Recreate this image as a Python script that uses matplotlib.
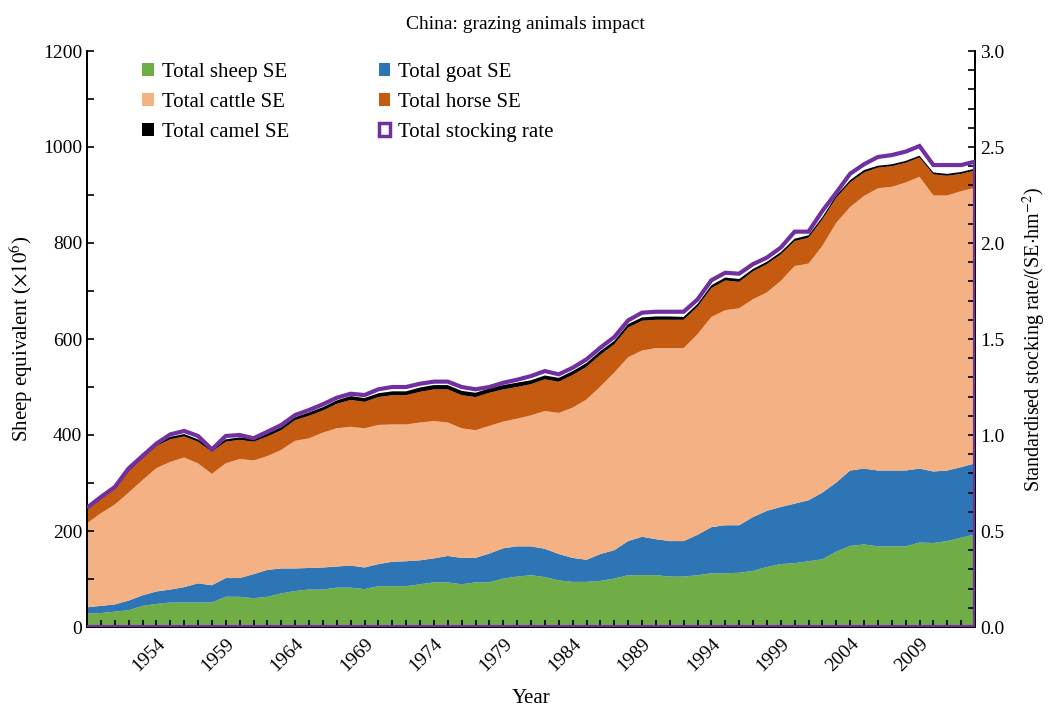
import numpy as np
import matplotlib
matplotlib.use("Agg")
import matplotlib.pyplot as plt
from matplotlib.patches import Patch, Polygon
from matplotlib.ticker import MultipleLocator, FormatStrFormatter

plt.rcParams["font.family"] = ["Liberation Serif", "DejaVu Serif"]
plt.rcParams["mathtext.fontset"] = "stix"

# Years covered by the livestock inventory
years = np.arange(1949, 2014)

# Sheep-equivalent numbers (million SE) per animal type
sheep = [28, 29, 32, 35, 44, 48, 51, 51, 51, 51, 63, 63, 60, 63, 70, 75, 78, 78, 82, 82,
         79, 85, 85, 85, 89, 93, 93, 89, 93, 93, 101, 105, 108, 104, 97, 94, 94, 96, 101, 108,
         108, 108, 105, 105, 108, 112, 112, 113, 117, 125, 131, 133, 137, 141, 157, 169, 172, 168, 168, 168,
         176, 175, 179, 186, 193]
goat = [13, 15, 15, 20, 22, 26, 27, 32, 40, 36, 39, 39, 50, 56, 52, 47, 45, 46, 44, 46,
        45, 46, 51, 52, 50, 50, 55, 55, 51, 60, 63, 63, 60, 59, 55, 50, 46, 56, 59, 71,
        80, 75, 74, 74, 84, 96, 100, 99, 112, 117, 119, 124, 127, 139, 144, 157, 158, 158, 158, 158,
        154, 149, 147, 147, 148]
cattle = [175, 193, 208, 225, 240, 257, 266, 270, 250, 232, 239, 248, 237, 237, 247, 266, 270, 281, 288, 289,
          290, 290, 286, 285, 287, 286, 278, 270, 266, 266, 264, 266, 273, 287, 294, 313, 334, 349, 370, 383,
          388, 398, 402, 402, 418, 438, 448, 452, 454, 455, 471, 495, 493, 514, 541, 549, 568, 588, 591, 600,
          608, 575, 573, 575, 574]
horse = [28, 31, 33, 44, 45, 46, 47, 44, 45, 46, 45, 40, 39, 41, 41, 43, 47, 46, 51, 56,
         55, 58, 61, 61, 64, 66, 69, 69, 69, 69, 67, 66, 65, 66, 65, 68, 68, 66, 59, 62,
         62, 59, 59, 59, 57, 60, 62, 55, 58, 59, 55, 52, 54, 55, 52, 51, 49, 43, 43, 41,
         40, 44, 41, 36, 36]
camel = [3, 3, 4, 4, 4, 5, 5, 5, 5, 5, 5, 5, 6, 6, 6, 6, 7, 7, 7, 8,
         8, 8, 8, 8, 9, 9, 9, 9, 9, 9, 9, 9, 8, 8, 8, 8, 8, 8, 7, 7,
         7, 7, 7, 6, 6, 6, 6, 6, 5, 5, 5, 5, 5, 5, 5, 5, 5, 4, 4, 4,
         4, 4, 4, 4, 4]

# Standardised stocking rate (SE per hm^2)
stocking = [0.621, 0.677, 0.729, 0.826, 0.891, 0.955, 1.003, 1.021, 0.995, 0.925,
            0.995, 1.000, 0.983, 1.017, 1.052, 1.104, 1.130, 1.160, 1.194, 1.215,
            1.208, 1.238, 1.250, 1.250, 1.267, 1.278, 1.278, 1.250, 1.238, 1.250,
            1.272, 1.288, 1.307, 1.333, 1.316, 1.350, 1.394, 1.455, 1.510, 1.597,
            1.637, 1.642, 1.642, 1.642, 1.706, 1.806, 1.845, 1.840, 1.890, 1.924,
            1.976, 2.059, 2.059, 2.167, 2.262, 2.361, 2.410, 2.448, 2.458, 2.476,
            2.505, 2.406, 2.406, 2.406, 2.424]

labels = ["Total sheep SE", "Total goat SE", "Total cattle SE", "Total horse SE",
          "Total camel SE", "Total stocking rate"]
colors = ["#70AD47", "#2E75B6", "#F4B183", "#C55A11", "#000000"]
purple = "#7030A0"

fig = plt.figure(figsize=(10.51, 7.07), dpi=100)
ax = fig.add_axes([87 / 1051, 1 - 627 / 707, 888 / 1051, 576 / 707])
ax2 = ax.twinx()

ax.stackplot(years, sheep, goat, cattle, horse, camel, colors=colors, linewidth=0)

# Stocking-rate outline: top curve, right edge and baseline
pts = list(zip(years, stocking)) + [(years[-1], 0.0), (years[0], 0.0)]
ax2.add_patch(Polygon(pts, closed=False, facecolor="none", edgecolor=purple,
                      linewidth=3, joinstyle="miter", clip_on=True, zorder=3))

ax.set_xlim(1949, 2013)
ax.set_ylim(0, 1200)
ax2.set_ylim(0, 3.0)

ax.set_xticks(np.arange(1954, 2013, 5))
ax.xaxis.set_minor_locator(MultipleLocator(1))
ax.yaxis.set_major_locator(MultipleLocator(200))
ax.yaxis.set_minor_locator(MultipleLocator(100))
ax2.yaxis.set_major_locator(MultipleLocator(0.5))
ax2.yaxis.set_minor_locator(MultipleLocator(0.1))
ax2.yaxis.set_major_formatter(FormatStrFormatter("%.1f"))

for a in (ax, ax2):
    a.spines["top"].set_visible(False)
    for s in a.spines.values():
        s.set_linewidth(1.3)
ax.tick_params(axis="both", which="both", direction="in", length=5, width=1.2,
               labelsize=14, top=False, right=False)
ax.tick_params(axis="x", which="both", pad=6)
ax2.tick_params(axis="y", which="both", direction="in", length=5, width=1.2, labelsize=14)
for lab in ax.get_xticklabels():
    lab.set_rotation(45)
    lab.set_ha("right")
    lab.set_va("top")
    lab.set_rotation_mode("anchor")

ax.set_xlabel("Year", fontsize=15, labelpad=10)
ax.set_ylabel(r"Sheep equivalent ($\times10^6$)", fontsize=15, labelpad=6)
ax2.set_ylabel(r"Standardised stocking rate/(SE$\cdot$hm$^{-2}$)", fontsize=14.5, labelpad=12)
fig.text(0.5, 0.966, "China: grazing animals impact", ha="center", va="center", fontsize=14)

handles = [Patch(facecolor=c, edgecolor="none") for c in colors]
handles.append(Patch(facecolor="white", edgecolor=purple, linewidth=2.5))
order = [0, 2, 4, 1, 3, 5]
ax.legend([handles[i] for i in order], [labels[i] for i in order], ncol=2,
          loc="upper left", bbox_to_anchor=(0.062, 0.979), frameon=False, fontsize=15,
          handlelength=0.55, handleheight=0.55, handletextpad=0.4, columnspacing=4.3,
          labelspacing=0.52, borderpad=0, borderaxespad=0)

fig.savefig("out.png", dpi=100)
